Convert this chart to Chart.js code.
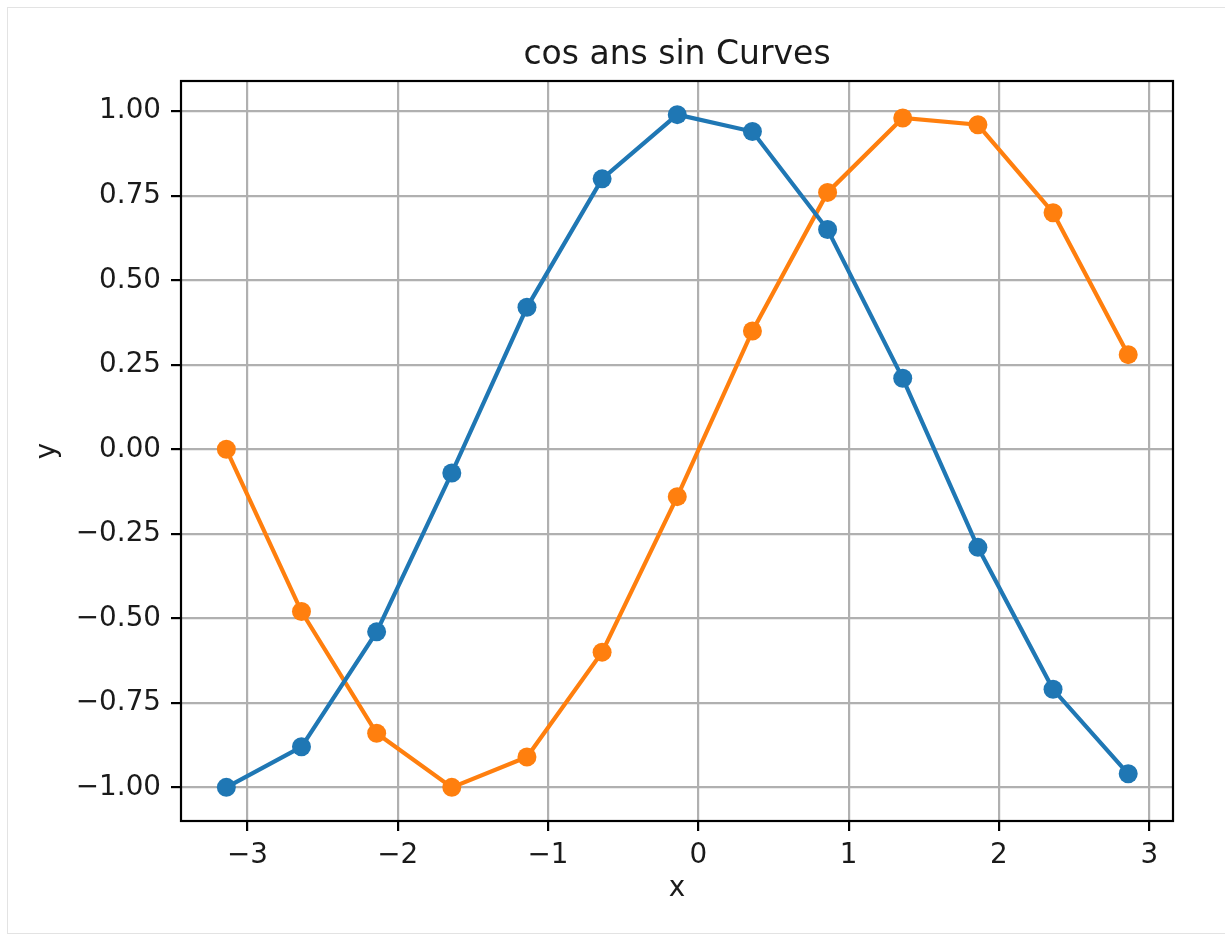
<!DOCTYPE html>
<html><head><meta charset="utf-8">
<script src="https://cdn.jsdelivr.net/npm/chart.js@4/dist/chart.umd.min.js"></script>
<style>
html,body{margin:0;padding:0;background:#fff;}
#wrap{position:absolute;left:0;top:0;width:1225px;height:935px;background:#fff;}
#frame{position:absolute;left:7px;top:7px;width:1218px;height:927px;border:1px solid #e3e3e3;border-right:none;box-sizing:border-box;}
canvas{position:absolute;left:0;top:0;}
</style></head><body>
<div id="wrap"><div id="frame"></div><canvas id="c" width="1225" height="935"></canvas></div>
<script>
const xValues = [-3.14, -2.64, -2.14, -1.64, -1.14, -0.64, -0.14, 0.36, 0.86, 1.36, 1.86, 2.36, 2.86];
const cosValues = [-1.00, -0.88, -0.54, -0.07, 0.42, 0.80, 0.99, 0.94, 0.65, 0.21, -0.29, -0.71, -0.96];
const sinValues = [0.00, -0.48, -0.84, -1.00, -0.91, -0.60, -0.14, 0.35, 0.76, 0.98, 0.96, 0.70, 0.28];
const xTickVals = [-3, -2, -1, 0, 1, 2, 3];
const yTickVals = [-1.00, -0.75, -0.50, -0.25, 0.00, 0.25, 0.50, 0.75, 1.00];
const titleText = 'cos ans sin Curves';
const xLabel = 'x';
const yLabel = 'y';

const FONT = "'DejaVu Sans', sans-serif";
const TEXT = '#1a1a1a';
const minus = s => s.replace('-', '\u2212');

const decor = {
  id: 'decor',
  afterDraw(chart) {
    const {ctx, chartArea: a} = chart;
    ctx.save();
    ctx.strokeStyle = '#000';
    ctx.lineWidth = 2.2;
    ctx.strokeRect(a.left, a.top, a.right - a.left, a.bottom - a.top);
    ctx.fillStyle = TEXT;
    const cx = (a.left + a.right) / 2;
    ctx.textAlign = 'center';
    ctx.textBaseline = 'alphabetic';
    ctx.font = '33px ' + FONT;
    ctx.fillText(titleText, cx, 64);
    ctx.font = '27.8px ' + FONT;
    ctx.textBaseline = 'middle';
    ctx.fillText(xLabel, cx, 889);
    ctx.translate(48, (a.top + a.bottom) / 2);
    ctx.rotate(-Math.PI / 2);
    ctx.fillText(yLabel, 0, 0);
    ctx.restore();
  }
};

function series(label, values, color) {
  return {
    label,
    data: xValues.map((x, i) => ({x, y: values[i]})),
    borderColor: color,
    backgroundColor: color,
    pointBackgroundColor: color,
    pointBorderWidth: 0,
    pointRadius: 9.5,
    borderWidth: 4.2,
    tension: 0,
    fill: false
  };
}

new Chart(document.getElementById('c'), {
  type: 'line',
  data: {
    datasets: [
      series('cos', cosValues, '#1f77b4'),
      series('sin', sinValues, '#ff7f0e')
    ]
  },
  options: {
    responsive: false,
    animation: false,
    devicePixelRatio: 1,
    layout: {padding: {top: 81, right: 52, left: 0, bottom: 0}},
    plugins: {legend: {display: false}, title: {display: false}, tooltip: {enabled: false}},
    scales: {
      x: {
        type: 'linear',
        min: -3.4416,
        max: 3.158,
        afterBuildTicks: s => { s.ticks = xTickVals.map(v => ({value: v})); },
        afterFit: s => { s.height = 114; },
        grid: {color: '#b0b0b0', lineWidth: 2.2, tickLength: 10, tickColor: '#000', tickWidth: 2.2, drawOnChartArea: true},
        border: {display: false},
        ticks: {
          autoSkip: false, maxRotation: 0, padding: 8, color: TEXT,
          font: {family: FONT, size: 27.8},
          callback: v => minus(String(v))
        }
      },
      y: {
        type: 'linear',
        min: -1.0995,
        max: 1.0895,
        afterBuildTicks: s => { s.ticks = yTickVals.map(v => ({value: v})); },
        afterFit: s => { s.width = 181; },
        grid: {color: '#b0b0b0', lineWidth: 2.2, tickLength: 10, tickColor: '#000', tickWidth: 2.2},
        border: {display: false},
        ticks: {
          autoSkip: false, padding: 10, color: TEXT,
          font: {family: FONT, size: 27.8},
          callback: v => minus(Number(v).toFixed(2))
        }
      }
    }
  },
  plugins: [decor]
});
</script>
</body></html>
